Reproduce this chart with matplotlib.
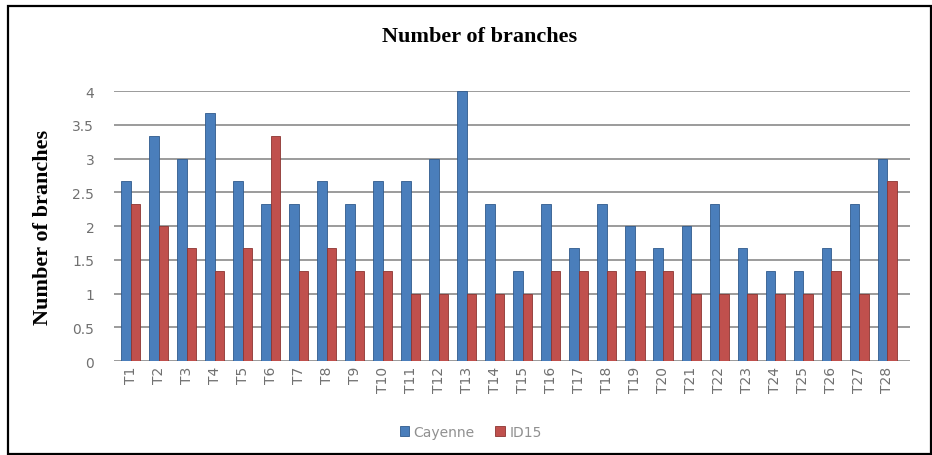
import numpy as np
import matplotlib
matplotlib.use("Agg")
import matplotlib.pyplot as plt
from matplotlib.patches import Rectangle

# values (thirds of a branch)
labels = ["T%d" % i for i in range(1, 29)]
cayenne = [2.67, 3.33, 3.0, 3.67, 2.67, 2.33, 2.33, 2.67, 2.33, 2.67,
           2.67, 3.0, 4.0, 2.33, 1.33, 2.33, 1.67, 2.33, 2.0, 1.67,
           2.0, 2.33, 1.67, 1.33, 1.33, 1.67, 2.33, 3.0]
id15 = [2.33, 2.0, 1.67, 1.33, 1.67, 3.33, 1.33, 1.67, 1.33, 1.33,
        1.0, 1.0, 1.0, 1.0, 1.0, 1.33, 1.33, 1.33, 1.33, 1.33,
        1.0, 1.0, 1.0, 1.0, 1.0, 1.33, 1.0, 2.67]
yticks = [0, 0.5, 1, 1.5, 2, 2.5, 3, 3.5, 4]
ytick_labels = ["0", "0.5", "1", "1.5", "2", "2.5", "3", "3.5", "4"]

blue = "#4a7ebb"
red = "#c0504d"
grey = "#707070"

fig = plt.figure(figsize=(9.32, 4.56), dpi=100)
ax = fig.add_axes([0.122, 0.206, 0.854, 0.592])

x = np.arange(len(labels))
w = 0.34
ax.bar(x - w / 2, cayenne, w, color=blue, edgecolor="#2f5a8c", linewidth=0.6,
       label="Cayenne", zorder=3)
ax.bar(x + w / 2, id15, w, color=red, edgecolor="#8c3532", linewidth=0.6,
       label="ID15", zorder=3)

ax.set_ylim(0, 4)
ax.set_xlim(-0.6, len(labels) - 0.2)
ax.set_yticks(yticks)
ax.set_yticklabels(ytick_labels)
ax.yaxis.grid(True, color="#8a8a8a", linewidth=1.2, zorder=0)
ax.set_xticks(x)
ax.set_xticklabels(labels, rotation=90)
ax.tick_params(axis="both", length=0, colors=grey, labelsize=10)
ax.tick_params(axis="y", pad=14)
for s in ax.spines.values():
    s.set_visible(False)

ax.set_ylabel("Number of branches", fontfamily="Liberation Serif",
              fontweight="bold", fontsize=16, color="black", labelpad=14)
fig.text(0.515, 0.918, "Number of branches", ha="center", va="center",
         fontfamily="Liberation Serif", fontweight="bold", fontsize=16)

leg = fig.legend(loc="center", bbox_to_anchor=(0.505, 0.05), ncol=2,
                 frameon=False, handlelength=0.7, handleheight=0.7,
                 handletextpad=0.3, columnspacing=1.5, fontsize=10)
for t in leg.get_texts():
    t.set_color("#909090")

# frame around the whole picture
fig.patches.append(Rectangle((0.009, 0.002), 0.99, 0.982, transform=fig.transFigure,
                             fill=False, edgecolor="black", linewidth=1.6))

fig.savefig("out.png", dpi=100)
